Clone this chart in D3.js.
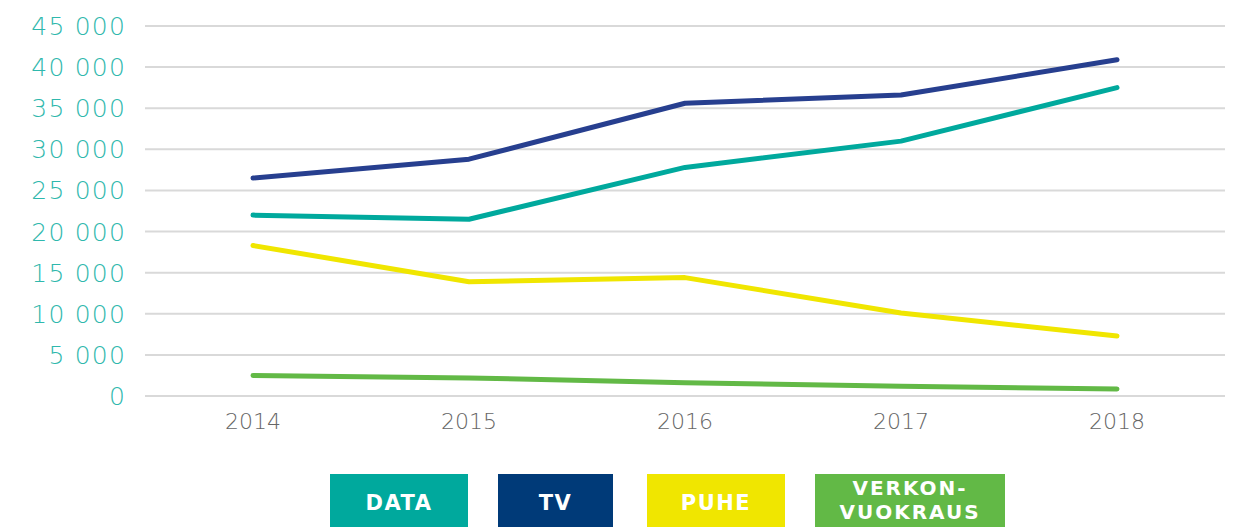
<!DOCTYPE html>
<html><head><meta charset="utf-8">
<script src="https://cdn.jsdelivr.net/npm/d3@7"></script>
<style>body{margin:0;background:#fff;}svg{display:block;}</style>
</head><body>
<svg id="c" width="1233" height="527"></svg>
<script>
const years = ["2014","2015","2016","2017","2018"];
const dataVals = [22000, 21500, 27800, 31000, 37500];
const tvVals = [26500, 28800, 35600, 36600, 40900];
const puheVals = [18300, 13900, 14400, 10100, 7300];
const verkonVals = [2500, 2200, 1600, 1200, 850];
const yTicks = [0,5000,10000,15000,20000,25000,30000,35000,40000,45000];
const seriesNames = ["DATA","TV","PUHE","VERKON-\nVUOKRAUS"];
const lineColors = ["#00a99d","#273f8f","#f0e600","#62b946"];
const legendColors = ["#00a99d","#003a78","#f0e600","#62b946"];

const svg = d3.select("#c");
const x = d3.scalePoint().domain(years).range([145,1225]).padding(0.5);
const y = d3.scaleLinear().domain([0,45000]).range([396,26]);

const fmt = v => v===0 ? "0" : d3.format(",")(v).replace(/,/g," ");

svg.append("g").selectAll("line").data(yTicks).join("line")
  .attr("x1",145).attr("x2",1225).attr("y1",d=>y(d)).attr("y2",d=>y(d))
  .attr("stroke","#d9d9d9").attr("stroke-width",2);

svg.append("g").selectAll("text").data(yTicks).join("text")
  .attr("x",126).attr("y",d=>y(d)).attr("dy","0.36em").attr("text-anchor","end")
  .attr("font-family","DejaVu Sans").attr("font-weight",200).attr("font-size",25)
  .attr("letter-spacing",1.2)
  .attr("fill","#2fb8ad").text(fmt);

svg.append("g").selectAll("text").data(years).join("text")
  .attr("x",d=>x(d)).attr("y",429).attr("text-anchor","middle")
  .attr("font-family","DejaVu Sans").attr("font-weight",200).attr("font-size",22)
  .attr("fill","#666").text(d=>d);

const series = [dataVals, tvVals, puheVals, verkonVals];
const line = d3.line().x((d,i)=>x(years[i])).y(d=>y(d));
[3,2,0,1].forEach(k=>{
  svg.append("path").datum(series[k]).attr("d",line)
    .attr("fill","none").attr("stroke",lineColors[k]).attr("stroke-width",5)
    .attr("stroke-linecap","round").attr("stroke-linejoin","round");
});

const boxes = [[330,138],[498,115],[647,138],[815,190]];
boxes.forEach((b,i)=>{
  svg.append("rect").attr("x",b[0]).attr("y",474).attr("width",b[1]).attr("height",60)
    .attr("fill",legendColors[i]);
  const lines = seriesNames[i].split("\n");
  const cx = b[0]+b[1]/2;
  const ys = lines.length===1 ? [510] : [495, 519];
  lines.forEach((l,j)=>{
    svg.append("text").attr("x",cx).attr("y",ys[j]).attr("text-anchor","middle")
      .attr("font-family","DejaVu Sans").attr("font-weight",700).attr("font-size",lines.length===1?21:20)
      .attr("letter-spacing",lines.length===1?1.5:2).attr("fill","#fff").text(l);
  });
});
</script>
</body></html>
